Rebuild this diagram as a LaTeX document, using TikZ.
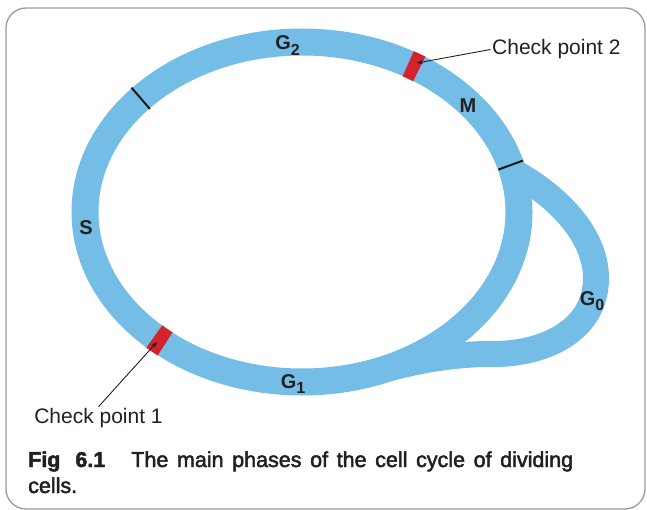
\documentclass[tikz,border=0pt]{standalone}
\usepackage{fontspec}
\setmainfont{Liberation Sans}
\newfontfamily\capfont[FakeBold=2.2]{Liberation Sans}
\usetikzlibrary{arrows.meta,calc}
\definecolor{bandblue}{RGB}{116,189,231}
\definecolor{cpred}{RGB}{212,35,44}
\definecolor{framegray}{RGB}{155,155,155}
\definecolor{txt}{RGB}{35,31,32}
\newcommand{\phsub}[1]{\raisebox{-0.28em}{\fontsize{16}{16}\selectfont #1}}
\begin{document}
\begin{tikzpicture}[x=1pt,y=1pt,
  band/.style={draw=bandblue,line width=27pt},
  loopband/.style={draw=bandblue,line width=26pt},
  redmark/.style={draw=cpred,line width=27.5pt},
  tickmark/.style={draw=black!90,line width=2pt},
  phase/.style={font=\fontsize{20}{20}\selectfont\bfseries,text=txt,inner sep=0pt},
  cplabel/.style={font=\fontsize{21}{21}\selectfont,text=txt,inner sep=1.5pt},
  pointer/.style={draw=txt,line width=0.9pt,-{Stealth[length=6pt,width=4.5pt]}},
  captext/.style={font=\capfont\fontsize{21.5}{26}\selectfont,text=txt,inner sep=0pt,anchor=base west}]
\useasboundingbox (0,0) rectangle (647,-510);
% frame
\draw[framegray,line width=1.3pt,rounded corners=20pt] (6,-8) rectangle (645,-509);
% cycle
\coordinate (C) at (302,-212);
\draw[loopband] (512,-171) .. controls (565,-200) and (596,-240) .. (596,-278)
  .. controls (596,-330) and (545,-355) .. (490,-354)
  .. controls (450,-354) and (410,-362) .. (376,-372);
\draw[band] (C) ellipse [x radius=217pt, y radius=170pt];
% red check points
\draw[redmark] ($(C)+(57.3:217pt and 170pt)$) arc[start angle=57.3, end angle=60.7, x radius=217pt, y radius=170pt];
\draw[redmark] ($(C)+(227.1:217pt and 170pt)$) arc[start angle=227.1, end angle=230.9, x radius=217pt, y radius=170pt];
% ticks
\draw[tickmark] (131.5,-87.7) -- (149.9,-108.9);
\draw[tickmark] (498.4,-169.6) -- (522.8,-160.6);
% phase labels
\node[phase] (g2) at (287.5,-45.5) {G\phsub{2}};
\node[phase] (m) at (468,-106) {M};
\node[phase] (s) at (86,-228) {S};
\node[phase] (g1) at (293,-384) {G\phsub{1}};
\node[phase] (g0) at (592,-301) {G\phsub{0}};
% check point labels
\coordinate (cpm2) at (417,-63);
\coordinate (cpm1) at (157,-342);
\node[cplabel,anchor=west] (cp2) at (490.5,-49.5) {Check point 2};
\node[cplabel] (cp1) at (98.5,-418.2) {Check point 1};
\draw[pointer] (cp2.west) -- (cpm2);
\draw[pointer] (cp1.north) -- (cpm1);
% caption
\node[captext] (cap1) at (28,-467) {\makebox[545pt][s]{\textbf{Fig\hspace{15pt}6.1}\hspace{26pt}The main phases of the cell cycle of dividing}};
\node[captext] (cap2) at (28,-493) {cells.};
\end{tikzpicture}
\end{document}
